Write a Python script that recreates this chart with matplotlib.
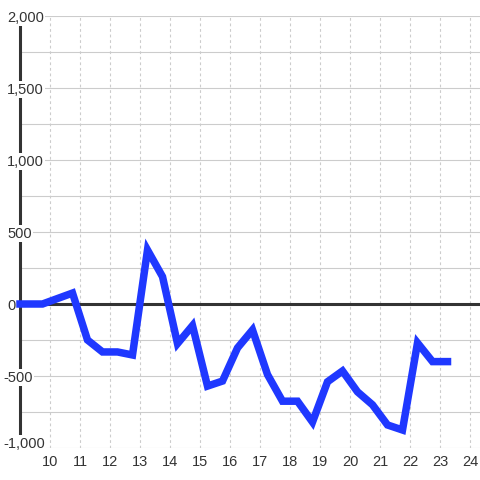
import matplotlib
matplotlib.use("Agg")
import matplotlib.pyplot as plt
from matplotlib.transforms import blended_transform_factory, offset_copy

plt.rcParams['font.family'] = ['Liberation Sans', 'DejaVu Sans']

# data
xs = [9.0, 9.25, 9.75, 10.25, 10.75, 11.25, 11.75, 12.25, 12.75, 13.25,
      13.75, 14.25, 14.75, 15.25, 15.75, 16.25, 16.75, 17.25, 17.75, 18.25,
      18.75, 19.25, 19.75, 20.25, 20.75, 21.25, 21.75, 22.25, 22.75, 23.25]
ys = [0, 0, 0, 38, 76, -250, -333, -333, -354, 375,
      190, -275, -150, -570, -535, -305, -180, -490, -675, -675,
      -820, -540, -465, -610, -700, -840, -875, -270, -400, -400]
xticks = list(range(10, 25))
yticks = [-1000, -500, 0, 500, 1000, 1500, 2000]
ygrid = list(range(-1000, 2001, 250))

fig = plt.figure(figsize=(4.8, 4.8), dpi=100)
ax = fig.add_axes([20/480, 32/480, 460/480, 432/480])
ax.set_xlim(9, 9 + 460/30)
ax.set_ylim(-1000, 2000)

for s in ['top', 'right', 'bottom']:
    ax.spines[s].set_visible(False)
ax.spines['left'].set_linewidth(2.2)
ax.spines['left'].set_color('#333333')

ax.set_yticks(ygrid)
ax.set_yticklabels([])
ax.set_xticks(xticks)
ax.set_xticklabels([str(t) for t in xticks], fontsize=10.5, color='#333333')
ax.tick_params(length=0)
ax.tick_params(axis='x', pad=5)
ax.grid(axis='y', color='#cccccc', lw=0.8)
ax.grid(axis='x', color='#cccccc', lw=0.8, ls=(0, (2.5, 2.5)))
ax.set_axisbelow(True)

ax.axhline(0, color='#333333', lw=2.2, zorder=1.5)

tr = blended_transform_factory(fig.transFigure, ax.transData)
for v in yticks:
    x0 = 3/480 if v < 0 else 7/480
    t = tr
    if v == -1000:
        t = offset_copy(tr, fig=fig, y=6, units='dots')
    ax.text(x0, v, f'{v:,}', transform=t, ha='left', va='center_baseline',
            fontsize=10.5, color='#333333', clip_on=False, zorder=4,
            bbox=dict(boxstyle='square,pad=0.1', fc='white', ec='none'))

ax.plot(xs, ys, color='#1f38ff', lw=5.4, solid_capstyle='projecting',
        solid_joinstyle='miter', clip_on=False, zorder=5)

fig.savefig('out.png', dpi=100, facecolor='white')
